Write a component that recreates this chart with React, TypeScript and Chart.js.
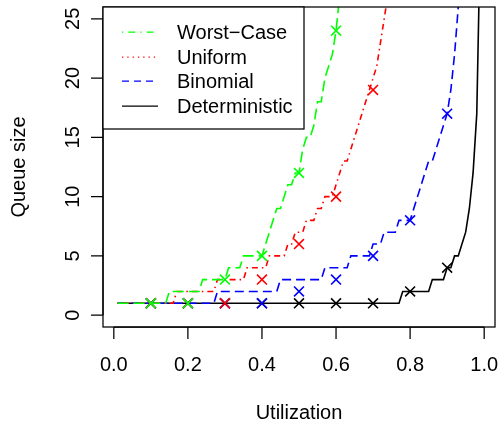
import { useEffect, useRef } from "react";
import { Chart, registerables } from "chart.js";

Chart.register(...registerables);

const utilization = [
  0.01, 0.02, 0.03, 0.04, 0.05, 0.06, 0.07, 0.08, 0.09, 0.1,
  0.11, 0.12, 0.13, 0.14, 0.15, 0.16, 0.17, 0.18, 0.19, 0.2,
  0.21, 0.22, 0.23, 0.24, 0.25, 0.26, 0.27, 0.28, 0.29, 0.3,
  0.31, 0.32, 0.33, 0.34, 0.35, 0.36, 0.37, 0.38, 0.39, 0.4,
  0.41, 0.42, 0.43, 0.44, 0.45, 0.46, 0.47, 0.48, 0.49, 0.5,
  0.51, 0.52, 0.53, 0.54, 0.55, 0.56, 0.57, 0.58, 0.59, 0.6,
  0.61, 0.62, 0.63, 0.64, 0.65, 0.66, 0.67, 0.68, 0.69, 0.7,
  0.71, 0.72, 0.73, 0.74, 0.75, 0.76, 0.77, 0.78, 0.79, 0.8,
  0.81, 0.82, 0.83, 0.84, 0.85, 0.86, 0.87, 0.88, 0.89, 0.9,
  0.91, 0.92, 0.93, 0.94, 0.95, 0.96, 0.97, 0.98, 0.99,
];

const deterministic = [
  1, 1, 1, 1, 1, 1, 1, 1, 1, 1,
  1, 1, 1, 1, 1, 1, 1, 1, 1, 1,
  1, 1, 1, 1, 1, 1, 1, 1, 1, 1,
  1, 1, 1, 1, 1, 1, 1, 1, 1, 1,
  1, 1, 1, 1, 1, 1, 1, 1, 1, 1,
  1, 1, 1, 1, 1, 1, 1, 1, 1, 1,
  1, 1, 1, 1, 1, 1, 1, 1, 1, 1,
  1, 1, 1, 1, 1, 1, 1, 2, 2, 2,
  2, 2, 2, 2, 2, 3, 3, 3, 3, 4,
  4, 5, 5, 6, 7, 9, 12, 17, 33,
];

const binomial = [
  1, 1, 1, 1, 1, 1, 1, 1, 1, 1,
  1, 1, 1, 1, 1, 1, 1, 1, 1, 1,
  1, 1, 1, 1, 1, 1, 1, 2, 2, 2,
  2, 2, 2, 2, 2, 2, 2, 2, 2, 2,
  2, 2, 2, 2, 3, 3, 3, 3, 3, 3,
  3, 3, 3, 3, 3, 3, 4, 4, 4, 4,
  4, 4, 4, 5, 5, 5, 5, 5, 5, 6,
  6, 6, 7, 7, 7, 7, 8, 8, 8, 8,
  9, 10, 11, 12, 13, 13, 14, 15, 16, 17,
  19, 22, 26, 31,
];

const uniform = [
  1, 1, 1, 1, 1, 1, 1, 1, 1, 1,
  1, 1, 1, 1, 1, 1, 2, 2, 2, 2,
  2, 2, 2, 2, 2, 2, 2, 3, 3, 3,
  3, 3, 3, 3, 3, 4, 4, 4, 4, 4,
  4, 5, 5, 5, 5, 5, 6, 6, 7, 7,
  7, 8, 8, 8, 9, 9, 10, 10, 10, 11,
  12, 13, 13, 14, 15, 16, 17, 18, 19, 20,
  21, 23, 25, 27, 30,
];

const worstCase = [
  1, 1, 1, 1, 1, 1, 1, 1, 1, 1,
  1, 1, 1, 1, 2, 2, 2, 2, 2, 2,
  2, 2, 2, 3, 3, 3, 3, 3, 3, 3,
  4, 4, 4, 4, 5, 5, 5, 5, 5, 5,
  6, 7, 8, 9, 9, 10, 11, 11, 12, 12,
  14, 15, 15, 16, 18, 18, 20, 21, 22, 24,
  27,
];

const markerUtilization = [0.1, 0.2, 0.3, 0.4, 0.5, 0.6, 0.7, 0.8, 0.9];
const deterministicMarks = [1, 1, 1, 1, 1, 1, 1, 2, 4];
const binomialMarks = [1, 1, 1, 1, 2, 3, 5, 8, 17];
const uniformMarks = [1, 1, 1, 3, 6, 10, 19];
const worstCaseMarks = [1, 1, 3, 5, 12, 24];

const xTickValues = [0, 0.2, 0.4, 0.6, 0.8, 1.0];
const xTickLabels = ["0.0", "0.2", "0.4", "0.6", "0.8", "1.0"];
const yTickValues = [0, 5, 10, 15, 20, 25];
const yTickLabels = ["0", "5", "10", "15", "20", "25"];

const xTitle = "Utilization";
const yTitle = "Queue size";
const legendLabels = ["Worst\u2212Case", "Uniform", "Binomial", "Deterministic"];

const FONT = '20px "Liberation Sans", Arial, sans-serif';
const LW = 1.25;

function pts(xs: number[], ys: number[]) {
  return ys.map((y, i) => ({ x: xs[i], y }));
}

const rPlugin = {
  id: "rstyle",
  afterDraw(chart: any) {
    const ctx: CanvasRenderingContext2D = chart.ctx;
    const { left, top, right, bottom } = chart.chartArea;
    const xs = chart.scales.x;
    const ys = chart.scales.y;
    ctx.save();
    ctx.strokeStyle = "#000";
    ctx.fillStyle = "#000";
    ctx.lineWidth = LW;
    ctx.setLineDash([]);

    // x axis
    const x0 = xs.getPixelForValue(xTickValues[0]);
    const x1 = xs.getPixelForValue(xTickValues[xTickValues.length - 1]);
    ctx.beginPath();
    ctx.moveTo(x0, bottom);
    ctx.lineTo(x1, bottom);
    xTickValues.forEach((v) => {
      const px = xs.getPixelForValue(v);
      ctx.moveTo(px, bottom);
      ctx.lineTo(px, bottom + 12);
    });
    ctx.stroke();
    ctx.font = FONT;
    ctx.textAlign = "center";
    ctx.textBaseline = "alphabetic";
    xTickValues.forEach((v, i) => {
      ctx.fillText(xTickLabels[i], xs.getPixelForValue(v), bottom + 44);
    });
    ctx.fillText(xTitle, (left + right) / 2, 419);

    // y axis
    const y0 = ys.getPixelForValue(yTickValues[0]);
    const y1 = ys.getPixelForValue(yTickValues[yTickValues.length - 1]);
    ctx.beginPath();
    ctx.moveTo(left, y0);
    ctx.lineTo(left, y1);
    yTickValues.forEach((v) => {
      const py = ys.getPixelForValue(v);
      ctx.moveTo(left, py);
      ctx.lineTo(left - 12, py);
    });
    ctx.stroke();
    yTickValues.forEach((v, i) => {
      const py = ys.getPixelForValue(v);
      ctx.save();
      ctx.translate(left - 24, py);
      ctx.rotate(-Math.PI / 2);
      ctx.fillText(yTickLabels[i], 0, 0);
      ctx.restore();
    });
    ctx.save();
    ctx.translate(24.5, (top + bottom) / 2);
    ctx.rotate(-Math.PI / 2);
    ctx.fillText(yTitle, 0, 0);
    ctx.restore();

    // box
    ctx.strokeRect(left, top, right - left, bottom - top);

    // legend
    const lx0 = left, ly0 = top, lx1 = 304, ly1 = 129;
    ctx.fillStyle = "#fff";
    ctx.fillRect(lx0, ly0, lx1 - lx0, ly1 - ly0);
    ctx.strokeRect(lx0, ly0, lx1 - lx0, ly1 - ly0);
    const rowY = [32, 57, 81, 106];
    const colors = ["#00ff00", "#ff0000", "#0000ff", "#000000"];
    const dashes = [[1.3, 5, 7, 5], [1.3, 4], [7, 5], []];
    ctx.textAlign = "left";
    legendLabels.forEach((lab, i) => {
      ctx.strokeStyle = colors[i];
      ctx.setLineDash(dashes[i]);
      ctx.beginPath();
      ctx.moveTo(122, rowY[i]);
      ctx.lineTo(158, rowY[i]);
      ctx.stroke();
      ctx.setLineDash([]);
      ctx.fillStyle = "#000";
      ctx.fillText(lab, 177, rowY[i] + 7);
    });
    ctx.restore();
  },
};

export default function App() {
  const ref = useRef<HTMLCanvasElement>(null);
  useEffect(() => {
    const canvas = ref.current;
    if (!canvas) return;
    const lineDs = (label: string, ys: number[], color: string, dash: number[], order: number) => ({
      label,
      data: pts(utilization, ys),
      borderColor: color,
      backgroundColor: color,
      borderWidth: 1.6,
      borderDash: dash,
      pointRadius: 0,
      fill: false,
      tension: 0,
      order,
    });
    const markDs = (label: string, ys: number[], color: string, order: number) => ({
      label,
      data: pts(markerUtilization, ys),
      showLine: false,
      borderColor: color,
      backgroundColor: color,
      pointStyle: "crossRot",
      pointRadius: 7,
      pointBorderWidth: 1.6,
      pointBorderColor: color,
      order,
    });
    const chart = new Chart(canvas, {
      type: "line",
      data: {
        datasets: [
          markDs("Worst-Case marks", worstCaseMarks, "#00ff00", 0),
          lineDs("Worst-Case", worstCase, "#00ff00", [11, 5], 1),
          markDs("Uniform marks", uniformMarks, "#ff0000", 2),
          lineDs("Uniform", uniform, "#ff0000", [1.5, 4, 6, 4], 3),
          markDs("Binomial marks", binomialMarks, "#0000ff", 4),
          lineDs("Binomial", binomial, "#0000ff", [9, 5], 5),
          markDs("Deterministic marks", deterministicMarks, "#000000", 6),
          lineDs("Deterministic", deterministic, "#000000", [], 7),
        ] as any,
      },
      options: {
        responsive: false,
        animation: false,
        layout: { autoPadding: false, padding: { left: 103, top: 7, right: 6, bottom: 94 } },
        scales: {
          x: { type: "linear", min: -0.0292, max: 1.0292, display: false },
          y: { type: "linear", min: -1, max: 26, display: false },
        },
        plugins: { legend: { display: false }, tooltip: { enabled: false } },
      } as any,
      plugins: [rPlugin],
    });
    return () => chart.destroy();
  }, []);
  return (
    <div style={{ position: "fixed", left: 0, top: 0, width: 501, height: 421, background: "#fff" }}>
      <canvas ref={ref} width={501} height={421} style={{ display: "block" }} />
    </div>
  );
}
